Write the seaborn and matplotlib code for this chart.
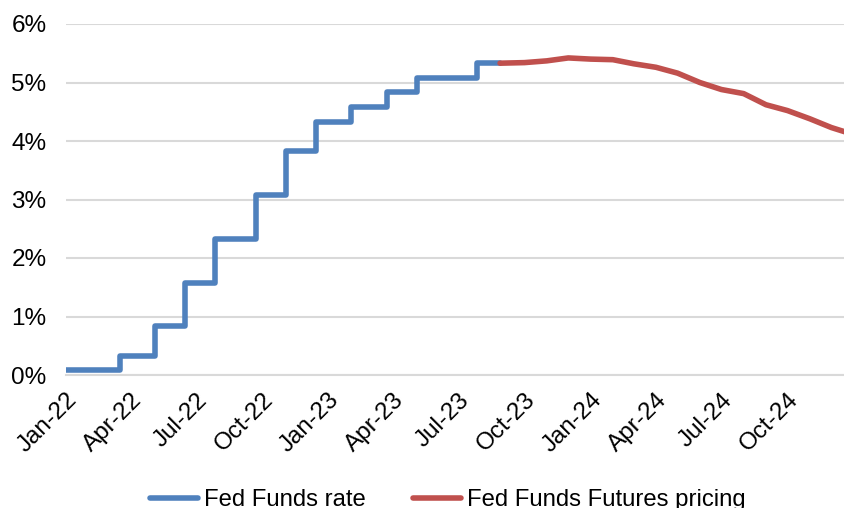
import pandas as pd
import matplotlib
matplotlib.use("Agg")
import matplotlib.pyplot as plt
import matplotlib.dates as mdates
from matplotlib.ticker import FuncFormatter
import seaborn as sns

# Fed Funds effective rate (step changes), %
ff_dates = ["2022-01-01", "2022-03-17", "2022-05-05", "2022-06-16", "2022-07-28",
            "2022-09-22", "2022-11-03", "2022-12-15", "2023-02-02", "2023-03-01",
            "2023-03-23", "2023-05-04", "2023-06-01", "2023-07-01", "2023-07-27",
            "2023-08-28"]
ff_rate = [0.08, 0.33, 0.83, 1.58, 2.33, 3.08, 3.83, 4.33, 4.58, 4.575,
           4.83, 5.08, 5.075, 5.08, 5.33, 5.33]

# Fed Funds futures implied path, %
fut_dates = ["2023-08-28", "2023-10-01", "2023-11-01", "2023-12-01", "2024-01-01",
             "2024-02-01", "2024-03-01", "2024-04-01", "2024-05-01", "2024-06-01",
             "2024-07-01", "2024-08-01", "2024-09-01", "2024-10-01", "2024-11-01",
             "2024-12-01", "2025-01-01"]
fut_rate = [5.33, 5.34, 5.37, 5.42, 5.40, 5.39, 5.32, 5.26, 5.16, 5.00,
            4.88, 4.81, 4.62, 4.52, 4.38, 4.23, 4.11]

ff = pd.DataFrame({"date": pd.to_datetime(ff_dates), "rate": ff_rate})
fut = pd.DataFrame({"date": pd.to_datetime(fut_dates), "rate": fut_rate})

sns.set_style("white")
plt.rcParams["font.family"] = ["Liberation Sans", "DejaVu Sans"]
plt.rcParams["text.color"] = "black"
plt.rcParams["xtick.labelcolor"] = "black"
plt.rcParams["ytick.labelcolor"] = "black"

fig = plt.figure(figsize=(8.45, 5.08), dpi=100)
ax = fig.add_axes([66 / 845, 133 / 508, 779 / 845, 351 / 508])

sns.lineplot(data=ff, x="date", y="rate", ax=ax, color="#4F81BD", linewidth=4,
             drawstyle="steps-post", label="Fed Funds rate", solid_joinstyle="round")
sns.lineplot(data=fut, x="date", y="rate", ax=ax, color="#C0504D", linewidth=4,
             label="Fed Funds Futures pricing", solid_joinstyle="round")

ax.set_xlim(pd.Timestamp("2022-01-01"), pd.Timestamp("2024-12-20"))
ax.set_ylim(0, 6)
ax.set_yticks(range(0, 7))
ax.yaxis.set_major_formatter(FuncFormatter(lambda v, p: f"{int(v)}%"))
ax.xaxis.set_major_locator(mdates.MonthLocator(bymonth=[1, 4, 7, 10]))
ax.xaxis.set_major_formatter(mdates.DateFormatter("%b-%y"))

ax.grid(axis="y", color="#D9D9D9", linewidth=1.5)
ax.set_axisbelow(True)
for s in ["top", "right", "left"]:
    ax.spines[s].set_visible(False)
ax.spines["bottom"].set_color("#D9D9D9")
ax.spines["bottom"].set_linewidth(1.5)

ax.tick_params(axis="y", length=0, pad=14, labelsize=17.5)
ax.tick_params(axis="x", length=6, width=1.5, color="#D9D9D9", pad=4, labelsize=17.5)
for lbl in ax.get_xticklabels():
    lbl.set_rotation(45)
    lbl.set_ha("right")
    lbl.set_rotation_mode("anchor")

ax.set_xlabel("")
ax.set_ylabel("")

handles, labels = ax.get_legend_handles_labels()
ax.legend_.remove()
fig.legend(handles, labels, loc="center", bbox_to_anchor=(0.53, 0.016), ncol=2,
           frameon=False, fontsize=17.2, handlelength=2.0, handletextpad=0.25,
           columnspacing=2.0)

fig.savefig("out.png", dpi=100)
